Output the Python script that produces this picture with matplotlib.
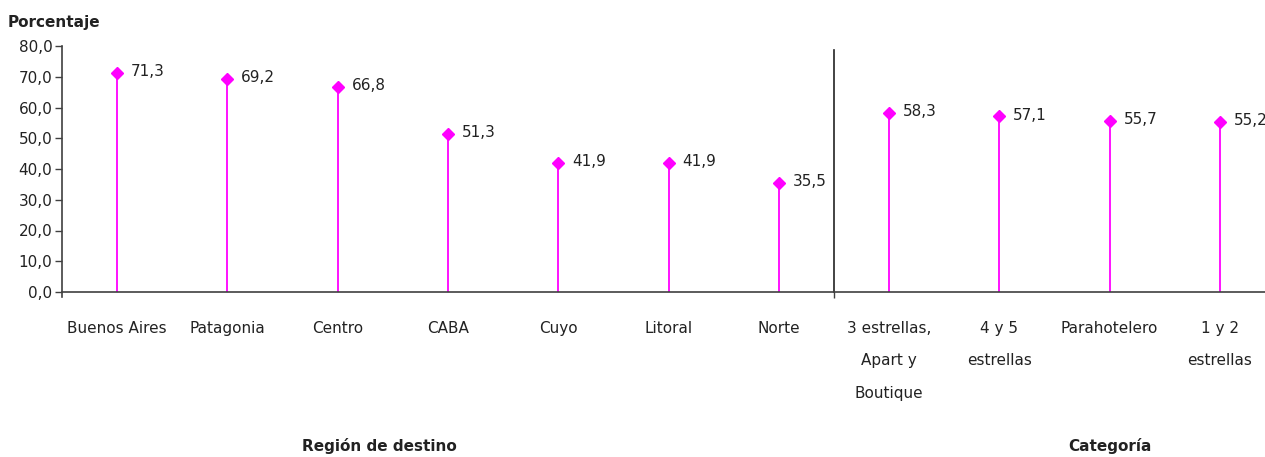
import numpy as np
import matplotlib.pyplot as plt
from matplotlib.transforms import blended_transform_factory

# datos
categorias = ['Buenos Aires', 'Patagonia', 'Centro', 'CABA', 'Cuyo', 'Litoral', 'Norte',
              '3 estrellas,\nApart y\nBoutique', '4 y 5\nestrellas', 'Parahotelero',
              '1 y 2\nestrellas']
valores = [71.3, 69.2, 66.8, 51.3, 41.9, 41.9, 35.5, 58.3, 57.1, 55.7, 55.2]
etiquetas_y = ['0,0', '10,0', '20,0', '30,0', '40,0', '50,0', '60,0', '70,0', '80,0']
grupos = ['Región de destino', 'Categoría']

plt.rcParams['font.family'] = ['DejaVu Sans']
W, H = 1265, 457
fig = plt.figure(figsize=(W / 100, H / 100), dpi=100)
ax = fig.add_axes([62 / W, 165 / H, 1213 / W, 246 / H])

x = np.arange(len(valores))
rosa = '#FF00FF'
ax.vlines(x, 0, valores, color=rosa, lw=1.3)
ax.plot(x, valores, 'D', color=rosa, ms=6.5, ls='none')
for xi, v in zip(x, valores):
    ax.annotate(f'{v:.1f}'.replace('.', ','), (xi, v), xytext=(10, 1),
                textcoords='offset points', va='center', ha='left', fontsize=11,
                color='#222222', annotation_clip=False)

ax.set_xlim(-0.5, len(valores) - 0.5)
ax.set_ylim(0, 80)
ax.set_yticks(np.arange(0, 81, 10))
ax.set_yticklabels(etiquetas_y, fontsize=11, color='#222222')
ax.tick_params(axis='y', length=5, width=1, color='#404040', pad=2)

for s in ['top', 'right']:
    ax.spines[s].set_visible(False)
for s in ['left', 'bottom']:
    ax.spines[s].set_color('#404040')
    ax.spines[s].set_linewidth(1.2)
ax.spines['left'].set_bounds(-1.6, 80)

# separador entre grupos
ax.set_xticks([6.5])
ax.set_xticklabels([''])
ax.tick_params(axis='x', length=4, width=1, color='#404040')
ax.plot([6.5, 6.5], [0, 78.7], color='#222222', lw=1.2, clip_on=False)

trans = blended_transform_factory(ax.transData, fig.transFigure)
for xi, lab in zip(x, categorias):
    ax.text(xi, 1 - 321 / H, lab, transform=trans, ha='center', va='top',
            fontsize=11, color='#222222', linespacing=2.45)

ax.text(2.38, 1 - 446 / H, grupos[0], transform=trans, ha='center', va='center',
        fontsize=11, fontweight='bold', color='#222222')
ax.text(9.0, 1 - 446 / H, grupos[1], transform=trans, ha='center', va='center',
        fontsize=11, fontweight='bold', color='#222222')

fig.text(8 / W, 1 - 22 / H, 'Porcentaje', ha='left', va='center',
         fontsize=11, fontweight='bold', color='#222222')

fig.savefig('out.png', dpi=100)
